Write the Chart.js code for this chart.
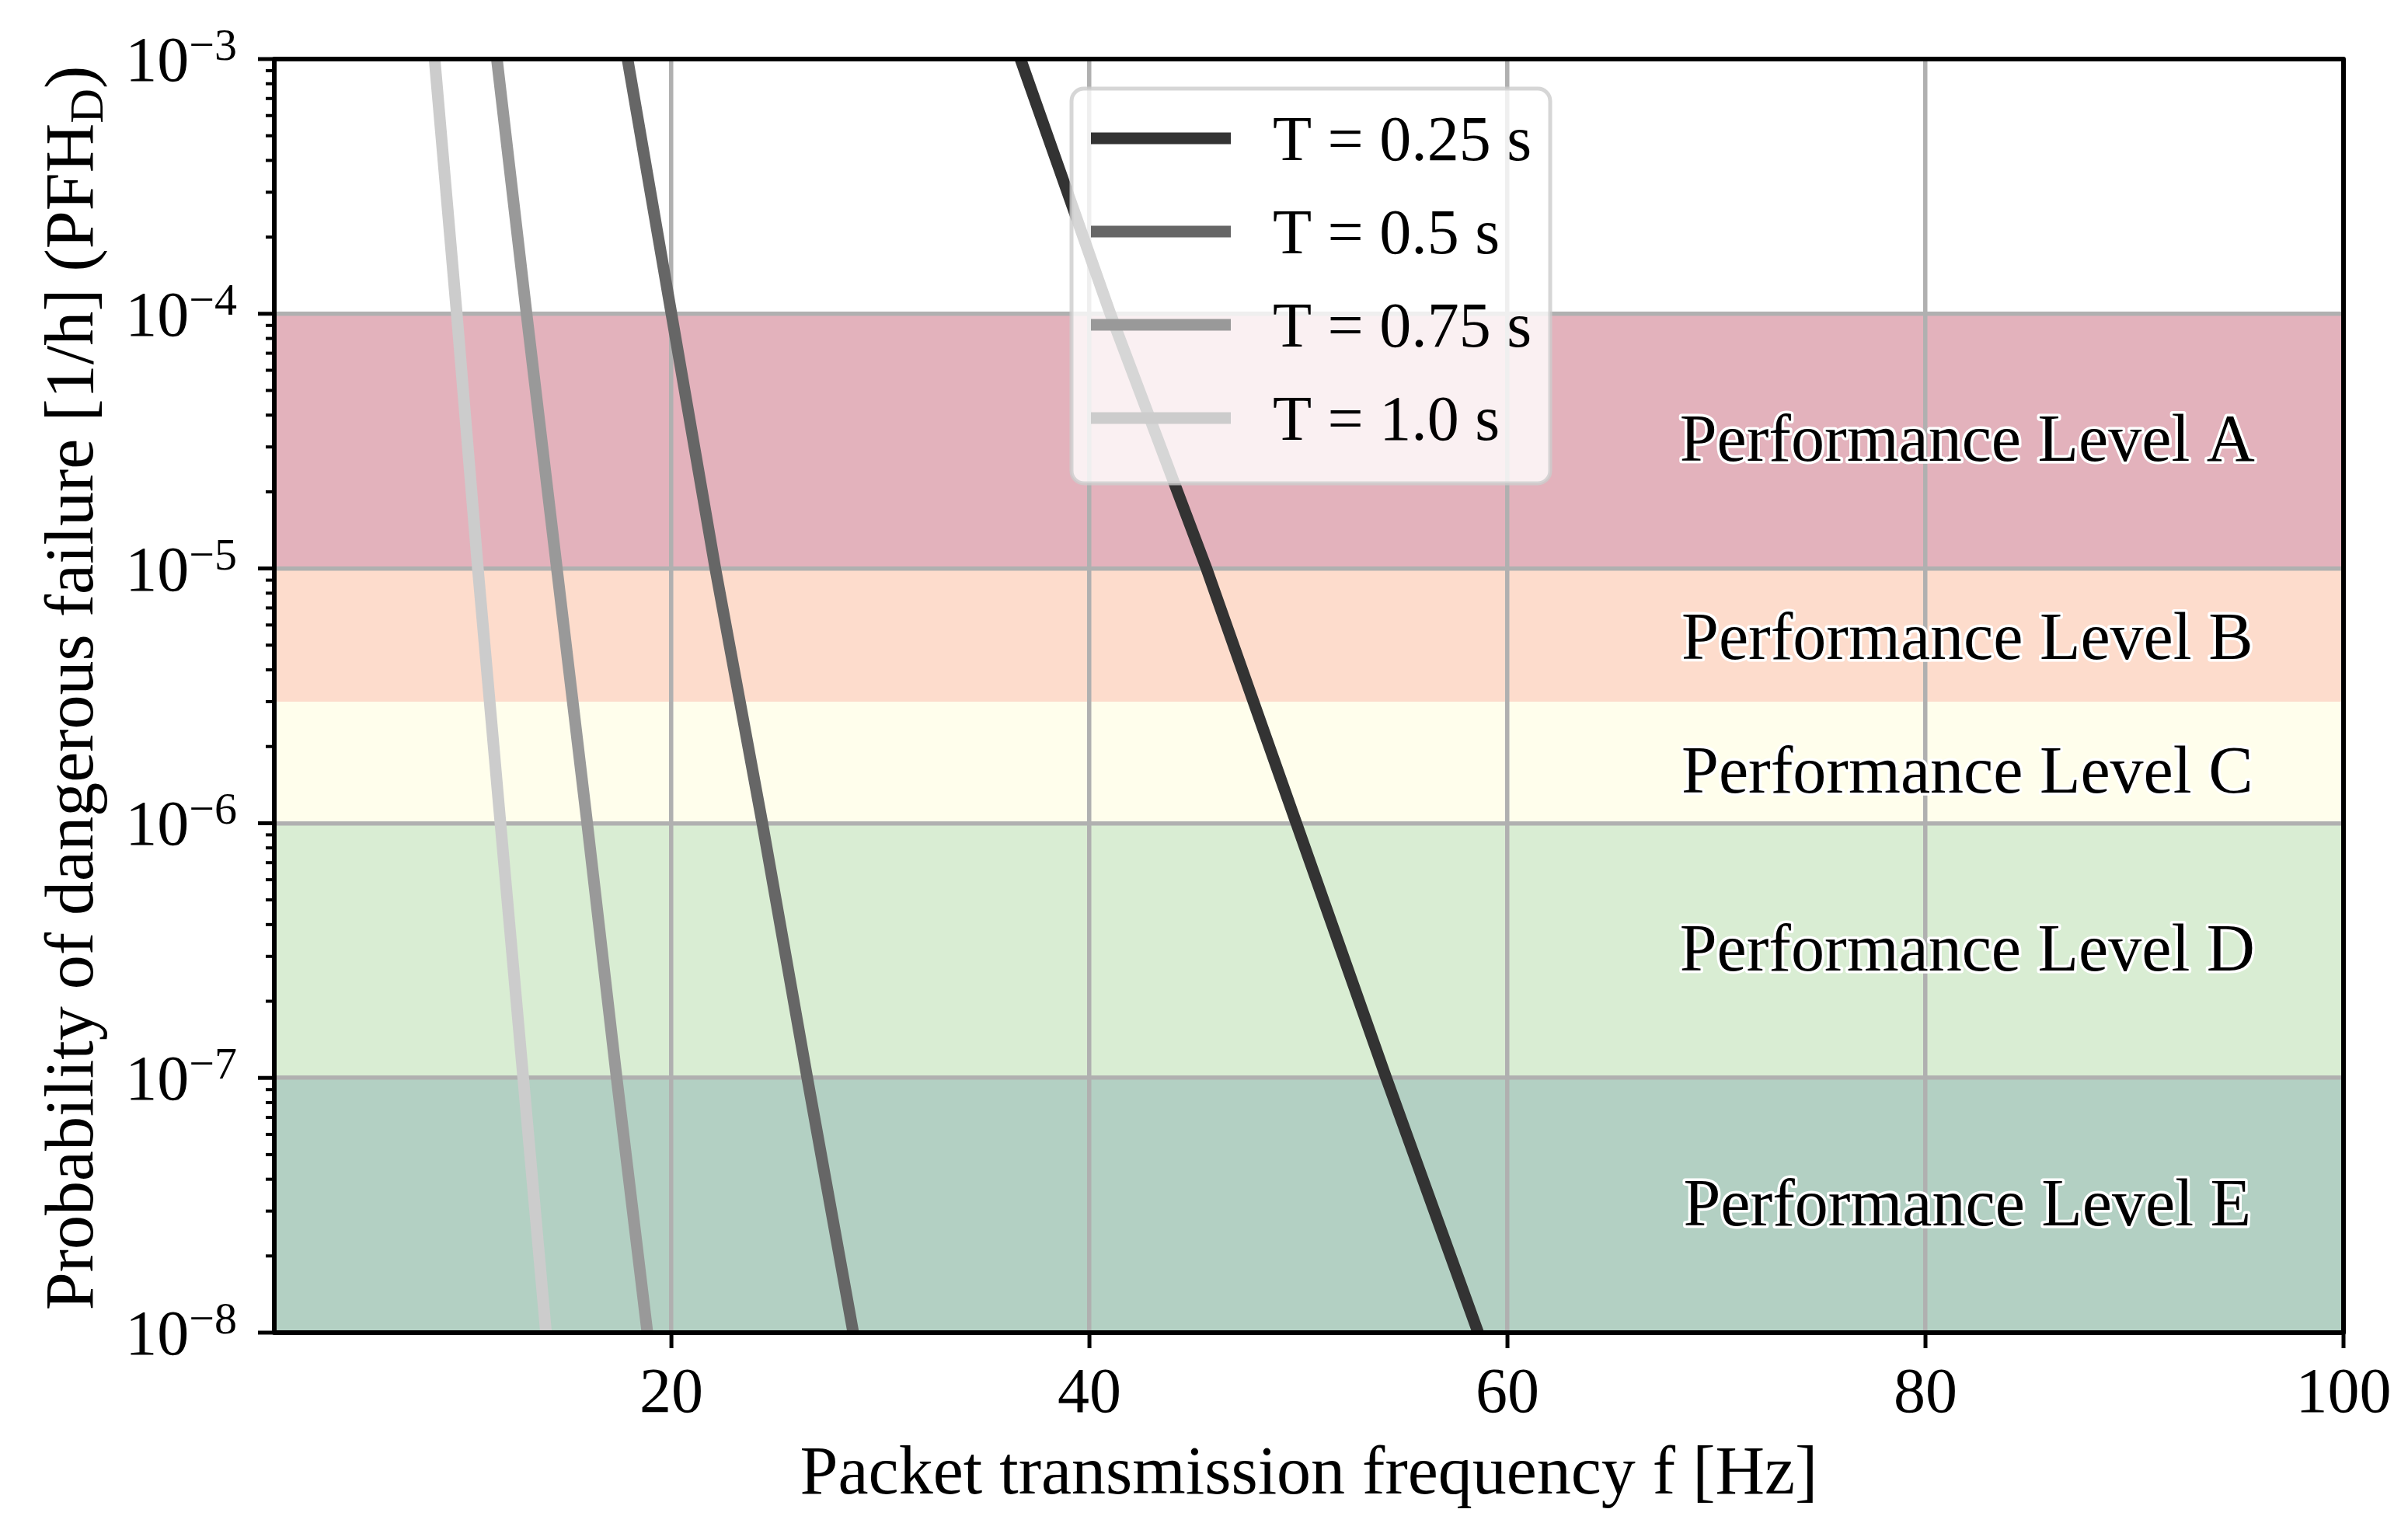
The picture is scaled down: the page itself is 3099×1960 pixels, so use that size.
<!DOCTYPE html>
<html>
<head>
<meta charset="utf-8">
<script src="https://cdn.jsdelivr.net/npm/chart.js@4.4.1/dist/chart.umd.min.js"></script>
<style>
html, body { margin: 0; padding: 0; background: #ffffff; }
canvas { display: block; }
</style>
</head>
<body>
<canvas id="c" width="3099" height="1960" style="width:3099px;height:1960px"></canvas>
<script>
// ---------------- data ----------------
const seriesLabels = ['T = 0.25 s', 'T = 0.5 s', 'T = 0.75 s', 'T = 1.0 s'];
const seriesColors = ['#333333', '#666666', '#999999', '#cccccc'];
// PFH values at which the frequency of each curve was read
const pfhLevels = [1e-3, 1e-4, 1e-5, 1e-6, 1e-7, 1e-8];
// frequency f [Hz] of each curve at those PFH values
const fT025 = [36.7, 41.0, 45.6, 49.9, 54.2, 58.6];
const fT050 = [17.9, 20.0, 22.1, 24.35, 26.5, 28.7];
const fT075 = [11.65, 13.07, 14.52, 15.97, 17.38, 18.85];
const fT100 = [8.67, 9.73, 10.74, 11.82, 12.91, 14.0];

// performance level bands
const bandLabels = ['Performance Level A', 'Performance Level B', 'Performance Level C', 'Performance Level D', 'Performance Level E'];
const bandHigh = [1e-4, 1e-5, 3e-6, 1e-6, 1e-7];
const bandLow  = [1e-5, 3e-6, 1e-6, 1e-7, 1e-8];
const bandColors = ['#e3b2bc', '#fddccc', '#fffeec', '#d9edd3', '#b3d0c3'];
const bandLabelX = 82;
const bandLabelY = [3e-5, 5e-6, 1.5e-6, 3e-7, 3e-8];

// axes / ticks
const xMin = 1, xMax = 100;
const xTicks = [20, 40, 60, 80, 100];
const xTickLabels = ['20', '40', '60', '80', '100'];
const yMin = 1e-8, yMax = 1e-3;
const yTicks = [1e-8, 1e-7, 1e-6, 1e-5, 1e-4, 1e-3];
const yTickExponents = ['\u22128', '\u22127', '\u22126', '\u22125', '\u22124', '\u22123'];
const xTitle = 'Packet transmission frequency f [Hz]';
const yTitleMain = 'Probability of dangerous failure [1/h] (PFH';
const yTitleSub = 'D';
const yTitleEnd = ')';

// ---------------- drawing ----------------
const FONT = '"Liberation Serif", "Times New Roman", serif';
const FS = 82, FS_SMALL = 58, FS_TITLE = 88, FS_BAND = 86;

const fSeries = [fT025, fT050, fT075, fT100];
const datasets = seriesLabels.map((lab, i) => ({
  label: lab,
  data: fSeries[i].map((f, j) => ({ x: f, y: pfhLevels[j] })),
  borderColor: seriesColors[i],
  backgroundColor: seriesColors[i],
  borderWidth: 15,
  pointRadius: 0,
  pointHoverRadius: 0,
  fill: false,
  tension: 0,
  clip: 0
}));

const bandPlugin = {
  id: 'bands',
  beforeDraw(chart) {
    const ctx = chart.ctx, a = chart.chartArea, y = chart.scales.y;
    ctx.save();
    ctx.fillStyle = '#ffffff';
    ctx.fillRect(0, 0, chart.width, chart.height);
    ctx.beginPath();
    ctx.rect(a.left, a.top, a.right - a.left, a.bottom - a.top);
    ctx.clip();
    for (let i = 0; i < bandLabels.length; i++) {
      const y1 = y.getPixelForValue(bandHigh[i]);
      const y2 = y.getPixelForValue(bandLow[i]);
      ctx.fillStyle = bandColors[i];
      ctx.fillRect(a.left, y1, a.right - a.left, y2 - y1);
    }
    ctx.restore();
  }
};

const overlayPlugin = {
  id: 'overlay',
  afterDatasetsDraw(chart) {
    const ctx = chart.ctx, a = chart.chartArea;
    const xs = chart.scales.x, ys = chart.scales.y;
    ctx.save();

    // band labels with white outline
    ctx.font = FS_BAND + 'px ' + FONT;
    ctx.textAlign = 'center';
    ctx.textBaseline = 'alphabetic';
    ctx.lineJoin = 'round';
    for (let i = 0; i < bandLabels.length; i++) {
      const px = xs.getPixelForValue(bandLabelX);
      const py = ys.getPixelForValue(bandLabelY[i]) + 18;
      ctx.strokeStyle = '#ffffff';
      ctx.lineWidth = 7;
      ctx.strokeText(bandLabels[i], px, py);
      ctx.fillStyle = '#000000';
      ctx.fillText(bandLabels[i], px, py);
    }

    // spines
    ctx.strokeStyle = '#000000';
    ctx.lineWidth = 6;
    ctx.strokeRect(a.left, a.top, a.right - a.left, a.bottom - a.top);

    // x ticks + labels
    ctx.lineWidth = 5;
    ctx.font = FS + 'px ' + FONT;
    ctx.fillStyle = '#000000';
    ctx.textAlign = 'center';
    xTicks.forEach((v, i) => {
      const px = xs.getPixelForValue(v);
      ctx.beginPath();
      ctx.moveTo(px, a.bottom);
      ctx.lineTo(px, a.bottom + 20);
      ctx.stroke();
      ctx.fillText(xTickLabels[i], px, a.bottom + 102);
    });

    // y ticks (major + minor) + labels
    for (let e = -8; e < -3; e++) {
      for (let k = 2; k <= 9; k++) {
        const py = ys.getPixelForValue(k * Math.pow(10, e));
        ctx.lineWidth = 4;
        ctx.beginPath();
        ctx.moveTo(a.left, py);
        ctx.lineTo(a.left - 11, py);
        ctx.stroke();
      }
    }
    yTicks.forEach((v, i) => {
      const py = ys.getPixelForValue(v);
      ctx.lineWidth = 5;
      ctx.beginPath();
      ctx.moveTo(a.left, py);
      ctx.lineTo(a.left - 21, py);
      ctx.stroke();
      const xr = a.left - 48;
      ctx.font = FS_SMALL + 'px ' + FONT;
      const supW = ctx.measureText(yTickExponents[i]).width;
      ctx.textAlign = 'left';
      ctx.fillText(yTickExponents[i], xr - supW, py + 1);
      ctx.font = FS + 'px ' + FONT;
      ctx.textAlign = 'right';
      ctx.fillText('10', xr - supW, py + 28);
    });

    // x title
    ctx.font = FS_TITLE + 'px ' + FONT;
    ctx.textAlign = 'center';
    ctx.fillText(xTitle, (a.left + a.right) / 2, 1922);

    // y title (rotated, with subscript)
    ctx.save();
    ctx.translate(119, (a.top + a.bottom) / 2 - 10);
    ctx.rotate(-Math.PI / 2);
    ctx.textAlign = 'left';
    ctx.font = FS_TITLE + 'px ' + FONT;
    const w1 = ctx.measureText(yTitleMain).width;
    const w3 = ctx.measureText(yTitleEnd).width;
    ctx.font = (FS_SMALL + 4) + 'px ' + FONT;
    const w2 = ctx.measureText(yTitleSub).width;
    let x0 = -(w1 + w2 + w3) / 2;
    ctx.font = FS_TITLE + 'px ' + FONT;
    ctx.fillText(yTitleMain, x0, 0);
    ctx.font = (FS_SMALL + 4) + 'px ' + FONT;
    ctx.fillText(yTitleSub, x0 + w1, 13);
    ctx.font = FS_TITLE + 'px ' + FONT;
    ctx.fillText(yTitleEnd, x0 + w1 + w2, 0);
    ctx.restore();

    // legend
    const L = 1379, T = 114, W = 616, H = 508, R = 16;
    ctx.beginPath();
    ctx.roundRect(L, T, W, H, R);
    ctx.fillStyle = 'rgba(255,255,255,0.8)';
    ctx.fill();
    ctx.lineWidth = 5;
    ctx.strokeStyle = 'rgba(204,204,204,0.8)';
    ctx.stroke();
    chart.data.datasets.forEach((ds, i) => {
      const cy = 178 + i * 120;
      ctx.strokeStyle = ds.borderColor;
      ctx.lineWidth = 15;
      ctx.lineCap = 'butt';
      ctx.beginPath();
      ctx.moveTo(1404, cy);
      ctx.lineTo(1584, cy);
      ctx.stroke();
      ctx.fillStyle = '#000000';
      ctx.font = FS + 'px ' + FONT;
      ctx.textAlign = 'left';
      ctx.fillText(ds.label, 1638, cy + 28);
    });

    ctx.restore();
  }
};

function build() {
  const ctx = document.getElementById('c').getContext('2d');
  new Chart(ctx, {
    type: 'line',
    data: { datasets },
    options: {
      responsive: false,
      animation: false,
      devicePixelRatio: 1,
      events: [],
      layout: { padding: { top: 76, right: 83, left: 0, bottom: 0 } },
      plugins: { legend: { display: false }, tooltip: { enabled: false }, title: { display: false } },
      scales: {
        x: {
          type: 'linear', min: xMin, max: xMax,
          afterBuildTicks: s => { s.ticks = xTicks.map(v => ({ value: v })); },
          afterFit: s => { s.height = 245; },
          ticks: { display: false },
          grid: { color: '#b0b0b0', lineWidth: 5.5, drawTicks: false },
          border: { display: false }
        },
        y: {
          type: 'logarithmic', min: yMin, max: yMax,
          afterBuildTicks: s => { s.ticks = yTicks.map(v => ({ value: v })); },
          afterFit: s => { s.width = 353; },
          ticks: { display: false },
          grid: { color: '#b0b0b0', lineWidth: 5.5, drawTicks: false },
          border: { display: false }
        }
      }
    },
    plugins: [bandPlugin, overlayPlugin]
  });
}
if (document.fonts && document.fonts.load) {
  Promise.all([document.fonts.load(FS + 'px "Liberation Serif"')]).then(build, build);
} else { build(); }
</script>
</body>
</html>
